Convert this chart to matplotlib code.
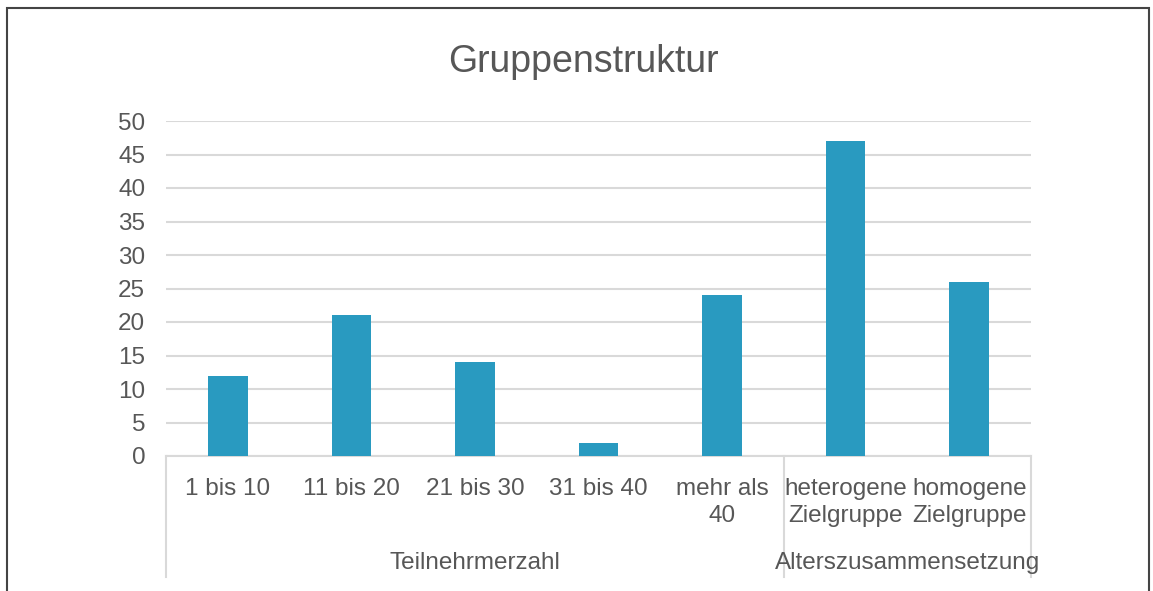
import matplotlib
matplotlib.use('Agg')
import matplotlib.pyplot as plt
from matplotlib.patches import Rectangle

# data
categories = ["1 bis 10", "11 bis 20", "21 bis 30", "31 bis 40", "mehr als\n40",
              "heterogene\nZielgruppe", "homogene\nZielgruppe"]
values = [12, 21, 14, 2, 24, 47, 26]
groups = ["Teilnehrmerzahl", "Alterszusammensetzung"]
group_sizes = [5, 2]

TXT = '#575757'
BAR = '#299AC0'
GRID = '#D9D9D9'

plt.rcParams['font.family'] = ['Liberation Sans', 'DejaVu Sans']

fig = plt.figure(figsize=(11.53, 5.91), dpi=100)
ax = fig.add_axes([166/1153, 1 - 456/591, (1031 - 166)/1153, (456 - 121)/591])

x = list(range(len(categories)))
ax.bar(x, values, width=0.32, color=BAR, zorder=3)

ax.set_xlim(-0.5, len(categories) - 0.5)
ax.set_ylim(0, 50)
ax.set_yticks(range(0, 51, 5))
ax.set_xticks(x)
ax.set_xticklabels(categories, fontsize=17.5, color=TXT, linespacing=1.3)
ax.tick_params(axis='y', length=0, pad=15, labelsize=17.5, labelcolor=TXT)
ax.tick_params(axis='x', length=0, pad=16)
ax.yaxis.grid(True, color=GRID, linewidth=1.5, zorder=0)
for s in ['top', 'right', 'left']:
    ax.spines[s].set_visible(False)
ax.spines['bottom'].set_color(GRID)
ax.spines['bottom'].set_linewidth(1.5)

# group separators and group labels below the category labels
trans = ax.get_xaxis_transform()
bottom = -(577 - 456) / (456 - 121)
start = -0.5
for name, n in zip(groups, group_sizes):
    ax.plot([start, start], [0, bottom], transform=trans, color=GRID,
            linewidth=1.5, clip_on=False)
    ax.text(start + n / 2, -(563 - 456) / (456 - 121), name, transform=trans,
            ha='center', va='center', fontsize=17.5, color=TXT)
    start += n
ax.plot([start, start], [0, bottom], transform=trans, color=GRID,
        linewidth=1.5, clip_on=False)

fig.text(583/1153, 1 - 62/591, "Gruppenstruktur", ha='center', va='center',
         fontsize=27, color=TXT)

# outer frame
fig.patches.append(Rectangle((7/1153, -0.05), (1149 - 7)/1153, 1.05 - 8/591,
                             transform=fig.transFigure, fill=False,
                             edgecolor='#444444', linewidth=1.5))

fig.savefig('out.png', dpi=100)
